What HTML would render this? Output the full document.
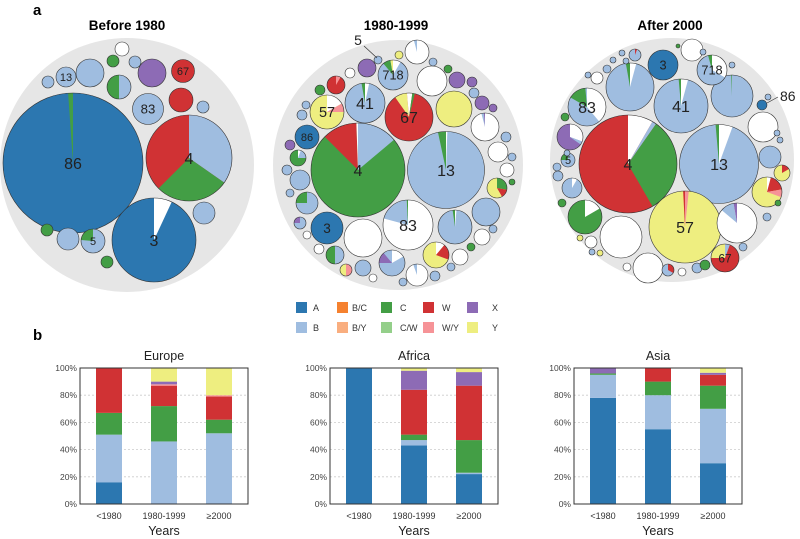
<!DOCTYPE html>
<html><head><meta charset="utf-8">
<style>
html,body{margin:0;padding:0;background:#fff;}
svg{display:block;font-family:"Liberation Sans",Arial,sans-serif;}
</style></head>
<body>
<svg id="fig" width="800" height="539" viewBox="0 0 800 539" xmlns="http://www.w3.org/2000/svg">
<text x="33" y="15" font-size="15" font-weight="bold">a</text>
<text x="127" y="30" font-size="13.5" font-weight="bold" text-anchor="middle">Before 1980</text>
<text x="396" y="30" font-size="13.5" font-weight="bold" text-anchor="middle">1980-1999</text>
<text x="670" y="30" font-size="13.5" font-weight="bold" text-anchor="middle">After 2000</text>
<text x="33" y="340" font-size="15" font-weight="bold">b</text>
<g id="packs"></g>
<g id="legend"></g>
<g id="bars"></g>
</svg>
<script>
const NS="http://www.w3.org/2000/svg";
const COL={A:"#2c77b0",B:"#9fbde0",BC:"#f5812f",BY:"#f9ae7f",C:"#439e45",CW:"#94cf8a",W:"#d03234",WY:"#f69397",X:"#8d6bb5",Y:"#eeee80",w:"#ffffff"};
function mk(tag,attrs,parent){const e=document.createElementNS(NS,tag);for(const k in attrs)e.setAttribute(k,attrs[k]);parent.appendChild(e);return e;}
const packs=document.getElementById('packs');

// ---------- circle packing panels ----------
const panel1=[[73,163,70,'A',[[-4,0,'C']],'86'],[189,158,43,'W',[[0,125,'B'],[125,225,'C']],'4'],[154,240,42,'A',[[0,25,'w']],'3'],
[148,109,15.5,'B',[],'83'],[66,77,10,'B',[],'13'],[183,71,11.5,'W',[],'67'],[181,100,12,'W'],[152,73,14,'X'],[119,87,12,'B',[[180,360,'C']]],
[90,73,14,'B'],[48,82,6,'B'],[113,61,6,'C'],[122,49,7,'w'],[135,62,6,'B'],[203,107,6,'B'],[204,213,11,'B'],[47,230,6,'C'],[68,239,11,'B'],
[93,241,12,'B',[[-85,0,'C']],'5'],[107,262,6,'C']];
const panel2=[[358,170,47,'C',[[-45,-2,'W'],[-2,0,'w'],[0,50,'B']],'4'],[446,170,38.5,'B',[[-12,0,'C'],[0,2,'w']],'13'],
[408,225,25,'w',[[-75,-3,'B'],[-3,0,'C']],'83'],[409,117,24,'W',[[-35,-5,'Y'],[-5,8,'w'],[8,14,'C']],'67'],
[365,103,20,'B',[[-10,0,'C'],[0,12,'w']],'41'],[393,75,15,'B',[[-40,-10,'C'],[-10,0,'Y'],[0,30,'w']],'718'],
[327,112,17,'Y',[[0,60,'w'],[60,90,'WY']],'57'],[307,137,12,'A',[],'86'],[327,228,16,'A',[],'3'],[363,238,19,'w'],[454,109,18,'Y'],
[432,81,15,'w'],[485,127,14,'w',[[-15,-5,'B'],[-5,0,'X']]],[455,227,17,'B',[[-8,0,'C'],[0,5,'w']]],[486,212,14,'B'],
[436,255,13,'Y',[[0,40,'w'],[40,110,'W']]],[498,152,10,'w'],[457,80,8,'X'],[367,68,9,'X'],[336,85,9,'W',[[0,30,'WY']]],
[417,275,11,'w',[[-20,0,'B']]],[392,263,13,'B',[[-90,-40,'X'],[0,60,'w']]],[363,268,8,'B'],[335,255,9,'B',[[180,360,'C']]],
[307,203,11,'B',[[-90,0,'C']]],[300,180,10,'B'],[298,158,8,'C',[[0,90,'B'],[0,20,'w']]],[497,188,10,'Y',[[0,100,'C'],[100,150,'W']]],
[482,237,8,'w'],[460,257,8,'w'],[378,60,4,'B'],[399,55,4,'Y'],[417,52,12,'w',[[-15,0,'B']]],[433,62,4,'B'],[448,69,4,'C'],[472,82,5,'X'],
[474,93,5,'B'],[482,103,7,'X'],[493,108,4,'X'],[506,137,5,'B'],[512,157,4,'B'],[507,170,7,'w'],[512,182,3,'C'],[493,229,4,'B'],[471,247,4,'C'],
[451,267,4,'B'],[435,276,5,'B'],[403,282,4,'B'],[373,278,4,'w'],[346,270,6,'Y',[[0,180,'WY']]],[319,249,5,'w'],[307,235,4,'w'],[300,223,6,'B',[[-90,0,'X']]],
[290,193,4,'B'],[287,170,5,'B'],[290,145,5,'X'],[302,115,5,'B'],[306,105,4,'B'],[320,90,5,'C'],[350,73,5,'w']];
const panel3=[[628,164,49,'W',[[0,30,'w'],[30,35,'B'],[35,150,'C']],'4'],[719,164,39.5,'B',[[-5,0,'C'],[0,20,'w']],'13'],
[685,227,36,'Y',[[-3,0,'W'],[0,6,'WY']],'57'],[681,106,27,'B',[[-5,0,'C'],[0,15,'w']],'41'],[630,87,24,'B',[[-10,0,'C'],[0,15,'w']]],
[732,96,21,'B',[[-2,0,'C']]],[663,65,15,'A',[],'3'],[712,70,15,'B',[[-15,0,'C'],[0,120,'w']],'718'],[587,107,19,'B',[[-60,-5,'C'],[0,140,'w']],'83'],
[621,237,21,'w'],[585,217,17,'C',[[0,60,'w']]],[648,268,15,'w'],[737,223,20,'w',[[-50,-10,'B'],[-10,0,'X']]],[570,137,13,'X',[[0,110,'w'],[110,125,'B']]],
[763,127,15,'w'],[770,157,11,'B'],[767,192,15,'Y',[[0,15,'w'],[15,80,'W'],[80,110,'WY']]],[725,258,14,'W',[[-90,0,'Y'],[0,20,'B']],'67'],
[782,173,8,'Y',[[0,60,'W']]],[692,50,11,'w'],[568,160,7,'B',[[-90,0,'C']],'5'],[572,188,10,'B',[[0,30,'w']]],[762,105,5,'A'],
[635,55,6,'B',[[0,20,'W']]],[622,53,3,'B'],[626,61,3,'B'],[613,60,3,'B'],[607,69,4,'B'],[597,78,6,'w'],[588,75,3,'B'],[565,117,4,'C'],[567,153,3,'B'],
[557,167,4,'B'],[558,176,5,'B'],[562,203,4,'C'],[580,238,3,'Y'],[591,242,6,'w'],[592,252,3,'B'],[600,253,3,'Y'],[627,267,4,'w'],[668,270,6,'B',[[0,120,'W']]],
[682,272,4,'w'],[697,268,5,'B'],[705,265,5,'C'],[743,247,4,'B'],[767,217,4,'B'],[778,203,3,'C'],[780,140,3,'B'],[777,133,3,'B'],[768,97,3,'B'],[678,46,2,'C'],[703,52,3,'B'],[732,65,3,'B']];

function pol(cx,cy,r,deg){const a=(deg-90)*Math.PI/180;return [cx+r*Math.cos(a),cy+r*Math.sin(a)];}
function drawPanel(list,bg,name){
  const g=mk('g',{},packs);
  
  
  const b=mk('circle',{cx:bg[0],cy:bg[1],r:bg[2],fill:'#e6e6e6'},g);
  
  
  list.forEach(c=>{
    const [cx,cy,r,base,sl,lab]=c;
    const cg=mk('g',{},g);
    
    
    mk('circle',{cx:cx,cy:cy,r:r,fill:COL[base]},cg);
    (sl||[]).forEach(s=>{
      const p1=pol(cx,cy,r,s[0]),p2=pol(cx,cy,r,s[1]);const large=(s[1]-s[0])>180?1:0;
      mk('path',{d:`M${cx},${cy}L${p1[0]},${p1[1]}A${r},${r} 0 ${large} 1 ${p2[0]},${p2[1]}Z`,fill:COL[s[2]]},cg);
    });
    mk('circle',{cx:cx,cy:cy,r:r,fill:'none',stroke:'#333','stroke-width':0.6},cg);
    if(lab){
      const fs=Math.max(11,Math.min(16,r*0.85));
      const t=mk('text',{x:cx,y:cy+fs*0.36,'font-size':fs,'text-anchor':'middle',fill:'#222'},cg);
      t.textContent=lab;
      
      
    }
  });
}
drawPanel(panel1,[127,165,127],'pack-before-1980');
drawPanel(panel2,[398,165,125],'pack-1980-1999');
drawPanel(panel3,[672,160,122],'pack-after-2000');
// callouts
mk('line',{x1:364,y1:46,x2:377,y2:58,stroke:'#333','stroke-width':0.7},packs);
const c5=mk('text',{x:358,y:45,'font-size':14,'text-anchor':'middle',fill:'#222'},packs);c5.textContent='5';


mk('line',{x1:767,y1:103,x2:778,y2:97,stroke:'#333','stroke-width':0.7},packs);
const c86=mk('text',{x:780,y:101,'font-size':14,fill:'#222'},packs);c86.textContent='86';



// ---------- legend ----------
const legKeys=[['A','A'],['BC','B/C'],['C','C'],['W','W'],['X','X'],['B','B'],['BY','B/Y'],['CW','C/W'],['WY','W/Y'],['Y','Y']];
const leg=document.getElementById('legend');
const lx=[296,337,381,423,467],ltx=[313,352,400,442,492];
legKeys.forEach((k,i)=>{
  const col=i%5,row=Math.floor(i/5);
  const g=mk('g',{},leg);
  
  
  mk('rect',{x:lx[col],y:302+row*20,width:11,height:11,fill:COL[k[0]]},g);
  const t=mk('text',{x:ltx[col],y:311+row*20,'font-size':9,fill:'#333'},g);t.textContent=k[1];
});

// ---------- stacked bars ----------
const categories=['<1980','1980-1999','≥2000'];
const stackKeys=['A','B','C','W','WY','X','Y'];
const tickLabels=['0%','20%','40%','60%','80%','100%'];
const tickValues=[0,20,40,60,80,100];
const europeA=[16,0,0],europeB=[35,46,52],europeC=[16,26,10],europeW=[33,15,17],europeWY=[0,1,1],europeX=[0,2,0],europeY=[0,10,20];
const africaA=[100,43,22],africaB=[0,4,1],africaC=[0,4,24],africaW=[0,33,40],africaWY=[0,0,0],africaX=[0,14,10],africaY=[0,2,3];
const asiaA=[78,55,30],asiaB=[17,25,40],asiaC=[1,10,17],asiaW=[0,10,8],asiaWY=[0,0,0],asiaX=[4,0,1.5],asiaY=[0,0,3.5];

const barsG=document.getElementById('bars');
const top0=368,bot0=504;
function yScale(v){return bot0-(v/100)*(bot0-top0);}
function drawChart(left,title,series){
  const right=left+168;
  const g=mk('g',{},barsG);
  
  
  const tt=mk('text',{x:(left+right)/2,y:360,'font-size':12.5,'text-anchor':'middle',fill:'#222'},g);tt.textContent=title;
  
  
  tickValues.forEach((v,i)=>{
    const y=yScale(v);
    if(v>0&&v<100) mk('line',{x1:left,x2:right,y1:y,y2:y,stroke:'#ccc','stroke-width':0.8,'stroke-dasharray':'2,2'},g);
    const t=mk('text',{x:left-3,y:y+3,'font-size':8.5,'text-anchor':'end',fill:'#444'},g);t.textContent=tickLabels[i];
    
    
  });
  categories.forEach((c,i)=>{
    const cx=left+29+i*55;let acc=0;
    stackKeys.forEach(k=>{
      const v=series[k][i];if(v<=0)return;
      const r=mk('rect',{x:cx-13,y:yScale(acc+v),width:26,height:yScale(acc)-yScale(acc+v),fill:COL[k]},g);
      
      
      acc+=v;
    });
    const t=mk('text',{x:cx,y:519,'font-size':9,'text-anchor':'middle',fill:'#333'},g);t.textContent=c;
    
    
  });
  mk('rect',{x:left,y:top0,width:168,height:bot0-top0,fill:'none',stroke:'#333','stroke-width':1},g);
  const xt=mk('text',{x:(left+right)/2,y:535,'font-size':12.5,'text-anchor':'middle',fill:'#222'},g);xt.textContent='Years';
  
  
}
drawChart(80,'Europe',{A:europeA,B:europeB,C:europeC,W:europeW,WY:europeWY,X:europeX,Y:europeY});
drawChart(330,'Africa',{A:africaA,B:africaB,C:africaC,W:africaW,WY:africaWY,X:africaX,Y:africaY});
drawChart(574,'Asia',{A:asiaA,B:asiaB,C:asiaC,W:asiaW,WY:asiaWY,X:asiaX,Y:asiaY});
</script>
</body></html>
